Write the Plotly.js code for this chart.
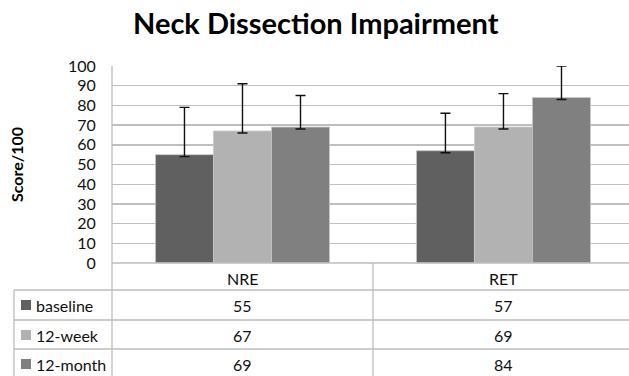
<!DOCTYPE html>
<html>
<head>
<meta charset="utf-8">
<script src="https://cdn.plot.ly/plotly-3.0.1.min.js"></script>
<style>html,body{margin:0;padding:0;overflow:hidden;background:#fff}</style>
</head>
<body>
<div id="chart" style="width:629px;height:376px"></div>
<script>
// ---- data ----
var categories = ["NRE", "RET"];
var seriesNames = ["baseline", "12-week", "12-month"];
var baseline = [55, 57];
var week12 = [67, 69];
var month12 = [69, 84];
var errPlusBaseline = [24, 19];
var errPlusWeek12 = [24, 17];
var errPlusMonth12 = [16, 16];
var errMinusBaseline = [1, 1];
var errMinusWeek12 = [1, 1];
var errMinusMonth12 = [1, 1];
var yTicks = [0, 10, 20, 30, 40, 50, 60, 70, 80, 90, 100];

// ---- styles ----
var colors = ["#606060", "#b2b2b2", "#808080"];
var FONT = "Lato, 'Liberation Sans', sans-serif";
var W = 629, H = 376;
var M = {l: 112, r: 0, t: 66, b: 113};
var xRange = [-0.5, 1.481];
var gridCol = "#bfbfbf";

var values = [baseline, week12, month12];
var plus = [errPlusBaseline, errPlusWeek12, errPlusMonth12];
var minus = [errMinusBaseline, errMinusWeek12, errMinusMonth12];

var traces = seriesNames.map(function (name, i) {
  return {
    type: "bar",
    name: name,
    x: categories,
    y: values[i],
    marker: {color: colors[i], line: {color: "#c8c8c8", width: 0.8}},
    error_y: {
      type: "data", symmetric: false,
      array: plus[i], arrayminus: minus[i],
      color: "#111", thickness: 1.4, width: 5
    },
    hoverinfo: "none"
  };
});

// pixel -> paper helpers
var pw = W - M.l - M.r, ph = H - M.t - M.b;
function px(x) { return (x - M.l) / pw; }
function py(y) { return (H - M.b - y) / ph; }
function dataX(v) { return (v - xRange[0]) / (xRange[1] - xRange[0]); }

var lineStyle = {color: "#bdbdbd", width: 1.3};
var shapes = [];
shapes.push({type: "line", xref: "paper", yref: "paper", x0: 0, x1: 0, y0: 1, y1: py(H + 2), line: lineStyle});
shapes.push({type: "line", xref: "paper", yref: "paper", x0: 0, x1: 1, y0: 0, y1: 0, line: lineStyle});
shapes.push({type: "line", xref: "paper", yref: "paper", x0: dataX(0.5), x1: dataX(0.5), y0: 0, y1: py(H + 2), line: lineStyle});
var rowTops = [290, 320, 349];
rowTops.forEach(function (r) {
  shapes.push({type: "line", xref: "paper", yref: "paper", x0: px(14), x1: 1, y0: py(r), y1: py(r), line: lineStyle});
});
shapes.push({type: "line", xref: "paper", yref: "paper", x0: px(14), x1: px(14), y0: py(290), y1: py(H + 2), line: lineStyle});

var annotations = [];
var rowCenters = [305, 335, 364];
var TS = 16;
categories.forEach(function (c, j) {
  annotations.push({xref: "x", yref: "paper", x: j, y: py(278), text: c, showarrow: false,
    xanchor: "center", yanchor: "middle", font: {family: FONT, size: TS, color: "#111"}});
});
seriesNames.forEach(function (name, i) {
  shapes.push({type: "rect", xref: "paper", yref: "paper", x0: px(21), x1: px(31),
    y0: py(rowCenters[i] - 5), y1: py(rowCenters[i] + 5), fillcolor: colors[i], line: {width: 0}});
  annotations.push({xref: "paper", yref: "paper", x: px(34), y: py(rowCenters[i]), text: name, showarrow: false,
    xanchor: "left", yanchor: "middle", font: {family: FONT, size: TS, color: "#111"}});
  categories.forEach(function (c, j) {
    annotations.push({xref: "x", yref: "paper", x: j, y: py(rowCenters[i]), text: String(values[i][j]), showarrow: false,
      xanchor: "center", yanchor: "middle", font: {family: FONT, size: TS, color: "#111"}});
  });
});

var layout = {
  width: W, height: H,
  margin: M,
  paper_bgcolor: "#fff", plot_bgcolor: "#fff",
  showlegend: false,
  barmode: "group",
  bargap: 0.333, bargroupgap: 0,
  title: {text: "<b>Neck Dissection Impairment</b>", x: 0.502, xanchor: "center", y: 0.937, yanchor: "middle",
    font: {family: FONT, size: 29, color: "#000"}},
  xaxis: {type: "category", range: xRange, showticklabels: false, showgrid: false, zeroline: false,
    showline: false, ticks: "", fixedrange: true},
  yaxis: {range: [0, 100], tickvals: yTicks, ticktext: yTicks.map(String), showgrid: true, gridcolor: gridCol, gridwidth: 1.4,
    zeroline: false, showline: false, ticks: "outside", ticklen: 12, tickcolor: "rgba(0,0,0,0)",
    tickfont: {family: FONT, size: 16, color: "#111"},
    title: {text: "<b>Score/100</b>", font: {family: FONT, size: 16, color: "#000"}, standoff: 40}},
  shapes: shapes,
  annotations: annotations,
  font: {family: FONT}
};

Plotly.newPlot("chart", traces, layout, {staticPlot: true, displayModeBar: false});
</script>
</body>
</html>
